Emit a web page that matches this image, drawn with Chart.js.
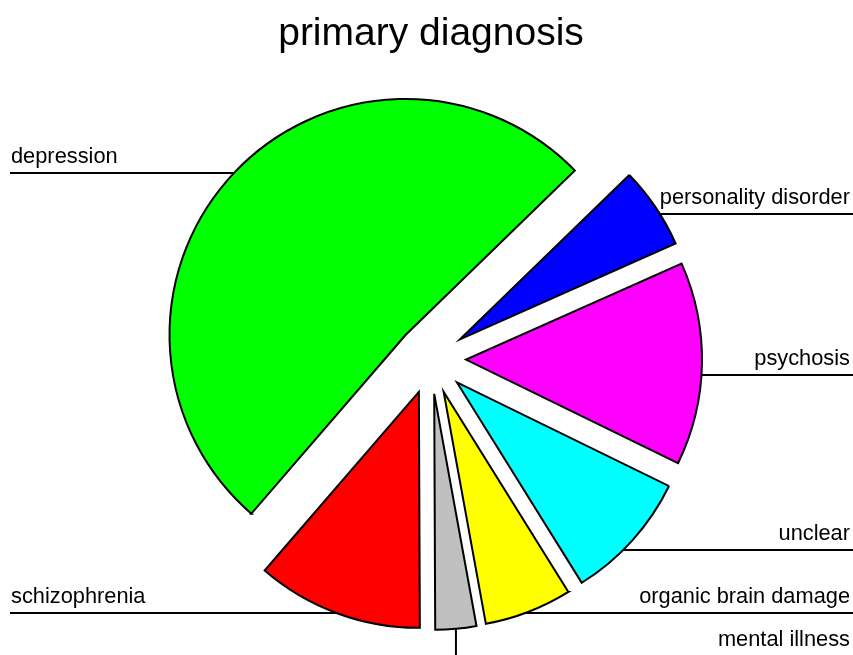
<!DOCTYPE html>
<html><head><meta charset="utf-8">
<script src="https://cdn.jsdelivr.net/npm/chart.js@4.4.0/dist/chart.umd.min.js"></script>
<style>html,body{margin:0;padding:0;background:#fff;overflow:hidden}#wrap{width:853px;height:655px}</style>
</head><body><div id="wrap"><canvas id="c" width="853" height="655"></canvas></div>
<script>
// ---- data ----
const categories = ['depression', 'personality disorder', 'psychosis', 'unclear', 'organic brain damage', 'mental illness', 'schizophrenia'];
const shares = [51.4, 5.6, 13.9, 8.9, 6.0, 2.8, 11.4];
const sliceColors = ['#00ff00', '#0000ff', '#ff00ff', '#00ffff', '#ffff00', '#c0c0c0', '#ff0000'];
// ---- label layout ----
const labelSide = ['left', 'right', 'right', 'right', 'right', 'right', 'left'];
const labelLineY = [173, 214, 375, 550, 613, 656, 613];
const labelConnector = ['edge', 'edge', 'edge', 'edge', 'edge', 'vertical', 'edge'];

const FONT = "'Liberation Sans', Arial, sans-serif";

const explodePlugin = {
  id: 'explode',
  beforeDatasetsDraw(chart, args, opts) {
    const ca = chart.chartArea;
    const cx = (ca.left + ca.right) / 2, cy = (ca.top + ca.bottom) / 2;
    chart.getDatasetMeta(0).data.forEach(el => {
      const mid = (el.startAngle + el.endAngle) / 2;
      el.x = cx + Math.cos(mid) * opts.distance;
      el.y = cy + Math.sin(mid) * opts.distance;
    });
  }
};

const leaderPlugin = {
  id: 'leaders',
  afterDatasetsDraw(chart, args, opts) {
    const ctx = chart.ctx;
    const W = chart.width;
    const arcs = chart.getDatasetMeta(0).data;
    ctx.save();
    ctx.strokeStyle = '#000';
    ctx.lineWidth = 2;
    ctx.fillStyle = '#000';
    ctx.font = opts.fontSize + 'px ' + FONT;
    ctx.textBaseline = 'alphabetic';
    arcs.forEach((el, i) => {
      const R = el.outerRadius;
      const ly = labelLineY[i];
      const side = labelSide[i];
      ctx.beginPath();
      if (labelConnector[i] === 'vertical') {
        const mid = (el.startAngle + el.endAngle) / 2;
        const px = el.x + Math.cos(mid) * R, py = el.y + Math.sin(mid) * R;
        ctx.moveTo(px, py);
        ctx.lineTo(px, ly);
        ctx.lineTo(side === 'right' ? W : opts.margin, ly);
      } else {
        const dy = ly - el.y;
        const dx = Math.sqrt(Math.max(R * R - dy * dy, 0));
        if (side === 'right') {
          ctx.moveTo(el.x + dx, ly); ctx.lineTo(W, ly);
        } else {
          ctx.moveTo(el.x - dx, ly); ctx.lineTo(opts.margin, ly);
        }
      }
      ctx.stroke();
      if (side === 'right') {
        ctx.textAlign = 'right';
        ctx.fillText(categories[i], W - 3, ly - opts.textGap);
      } else {
        ctx.textAlign = 'left';
        ctx.fillText(categories[i], opts.margin + 1, ly - opts.textGap);
      }
    });
    ctx.restore();
  }
};

new Chart(document.getElementById('c'), {
  type: 'pie',
  data: {
    labels: categories,
    datasets: [{
      data: shares,
      backgroundColor: sliceColors,
      borderColor: '#000',
      borderWidth: 2,
      borderJoinStyle: 'miter'
    }]
  },
  options: {
    responsive: false,
    animation: false,
    events: [],
    rotation: 220.8,
    radius: 236,
    layout: { padding: { left: 9, right: 0, top: 0, bottom: 0 } },
    plugins: {
      legend: { display: false },
      tooltip: { enabled: false },
      title: {
        display: true,
        text: 'primary diagnosis',
        color: '#000',
        font: { family: FONT, size: 39, weight: 'normal', lineHeight: 1.2 },
        padding: { top: 10.4, bottom: 5.8 }
      },
      explode: { distance: 35 },
      leaders: { fontSize: 21.8, margin: 10, textGap: 10 }
    }
  },
  plugins: [explodePlugin, leaderPlugin]
});
</script>
</body></html>
